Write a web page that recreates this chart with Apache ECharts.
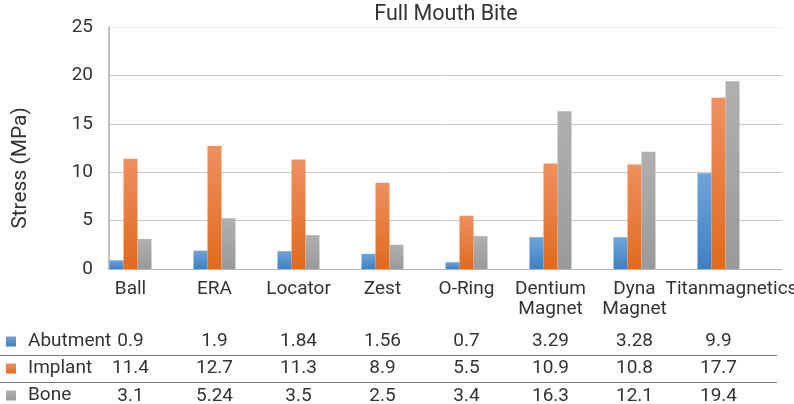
<!DOCTYPE html>
<html>
<head>
<meta charset="utf-8">
<title>Full Mouth Bite</title>
<script src="https://cdn.jsdelivr.net/npm/echarts@6/dist/echarts.min.js"></script>
<style>
  html, body { margin: 0; padding: 0; background: #fff; }
  #chart { width: 794px; height: 404px; }
</style>
</head>
<body>
<div id="chart"></div>
<script>
// data
const categories = ['Ball', 'ERA', 'Locator', 'Zest', 'O-Ring', 'Dentium\nMagnet', 'Dyna\nMagnet', 'Titanmagnetics'];
const abutment = [0.9, 1.9, 1.84, 1.56, 0.7, 3.29, 3.28, 9.9];
const implant = [11.4, 12.7, 11.3, 8.9, 5.5, 10.9, 10.8, 17.7];
const bone = [3.1, 5.24, 3.5, 2.5, 3.4, 16.3, 12.1, 19.4];
const seriesNames = ['Abutment', 'Implant', 'Bone'];
const yTicks = { min: 0, max: 25, interval: 5 };

const FONT = 'Roboto';
const TXT = '#333';

function grad(top, bottom) {
  return new echarts.graphic.LinearGradient(0, 0, 0, 1, [
    { offset: 0, color: top },
    { offset: 1, color: bottom }
  ]);
}
const colors = [
  grad('#6fa4d9', '#3f80c2'),
  grad('#ee9060', '#e06a1e'),
  grad('#b0b0b0', '#9a9a9a')
];

// one hidden category axis per table row, showing the values under each group
function rowAxis(values, offset) {
  return {
    type: 'category', gridIndex: 0, position: 'bottom', offset: offset,
    data: values.map(String),
    axisLine: { show: false }, axisTick: { show: false },
    axisLabel: { margin: 0, fontSize: 19, lineHeight: 19, color: TXT, fontFamily: FONT }
  };
}

// the last, long label sits a little to the right in the figure
const catData = categories.map((c, i) =>
  i === categories.length - 1 ? { value: c, textStyle: { padding: [0, 0, 0, 26] } } : c);

const chart = echarts.init(document.getElementById('chart'));
const option = {
  animation: false,
  textStyle: { fontFamily: FONT },
  title: {
    text: 'Full Mouth Bite', left: 441, top: -1, textAlign: 'center',
    textStyle: { fontSize: 21.5, fontWeight: 'normal', color: TXT, fontFamily: FONT }
  },
  legend: {
    orient: 'vertical', left: 6, top: 332, height: 120, padding: 0, itemGap: 8,
    itemWidth: 10, itemHeight: 10, icon: 'rect',
    textStyle: { fontSize: 19, lineHeight: 19, color: TXT, fontFamily: FONT, padding: [0, 0, 0, 7] },
    data: seriesNames
  },
  grid: [
    { left: 88.5, right: 33.5, top: 27, bottom: 135, outerBoundsMode: 'none' },
    { left: 109, right: 12, top: 27, bottom: 135, outerBoundsMode: 'none' }
  ],
  xAxis: [
    {
      type: 'category', gridIndex: 0, data: catData,
      axisLine: { show: false }, axisTick: { show: false },
      axisLabel: { margin: 10, fontSize: 19, lineHeight: 20, color: TXT, fontFamily: FONT, interval: 0 }
    },
    rowAxis(abutment, 63),
    rowAxis(implant, 89.5),
    rowAxis(bone, 117.5),
    {
      type: 'value', gridIndex: 1, min: 0, max: 1,
      axisLine: { show: true, lineStyle: { color: '#b5b5b5', width: 1 } },
      axisTick: { show: false }, axisLabel: { show: false }, splitLine: { show: false }
    }
  ],
  yAxis: [
    {
      type: 'value', gridIndex: 0, min: yTicks.min, max: yTicks.max, interval: yTicks.interval,
      show: false
    },
    {
      type: 'value', gridIndex: 1, min: yTicks.min, max: yTicks.max, interval: yTicks.interval,
      axisLine: { show: true, lineStyle: { color: '#aaa', width: 1.5 } },
      axisTick: { show: false },
      axisLabel: { margin: 16, fontSize: 19, color: TXT, fontFamily: FONT },
      splitLine: { lineStyle: { color: ['#c8c8c8', '#c8c8c8', '#c8c8c8', '#c8c8c8', '#c8c8c8', '#f0f0f0'], width: 1 } }
    }
  ],
  graphic: [
    {
      type: 'text', x: 21, y: 168, rotation: Math.PI / 2,
      style: { text: 'Stress (MPa)', fontSize: 21, fill: TXT, fontFamily: FONT, align: 'center', verticalAlign: 'middle' }
    },
    { type: 'line', shape: { x1: 0, y1: 355.5, x2: 777, y2: 355.5 }, style: { stroke: '#777', lineWidth: 1 } },
    { type: 'line', shape: { x1: 0, y1: 382.5, x2: 777, y2: 382.5 }, style: { stroke: '#777', lineWidth: 1 } }
  ],
  series: [abutment, implant, bone].map((vals, i) => ({
    name: seriesNames[i], type: 'bar', xAxisIndex: 0, yAxisIndex: 0,
    barWidth: 14, barGap: '0%',
    itemStyle: { color: colors[i] },
    data: vals
  }))
};
chart.setOption(option);
</script>
</body>
</html>
